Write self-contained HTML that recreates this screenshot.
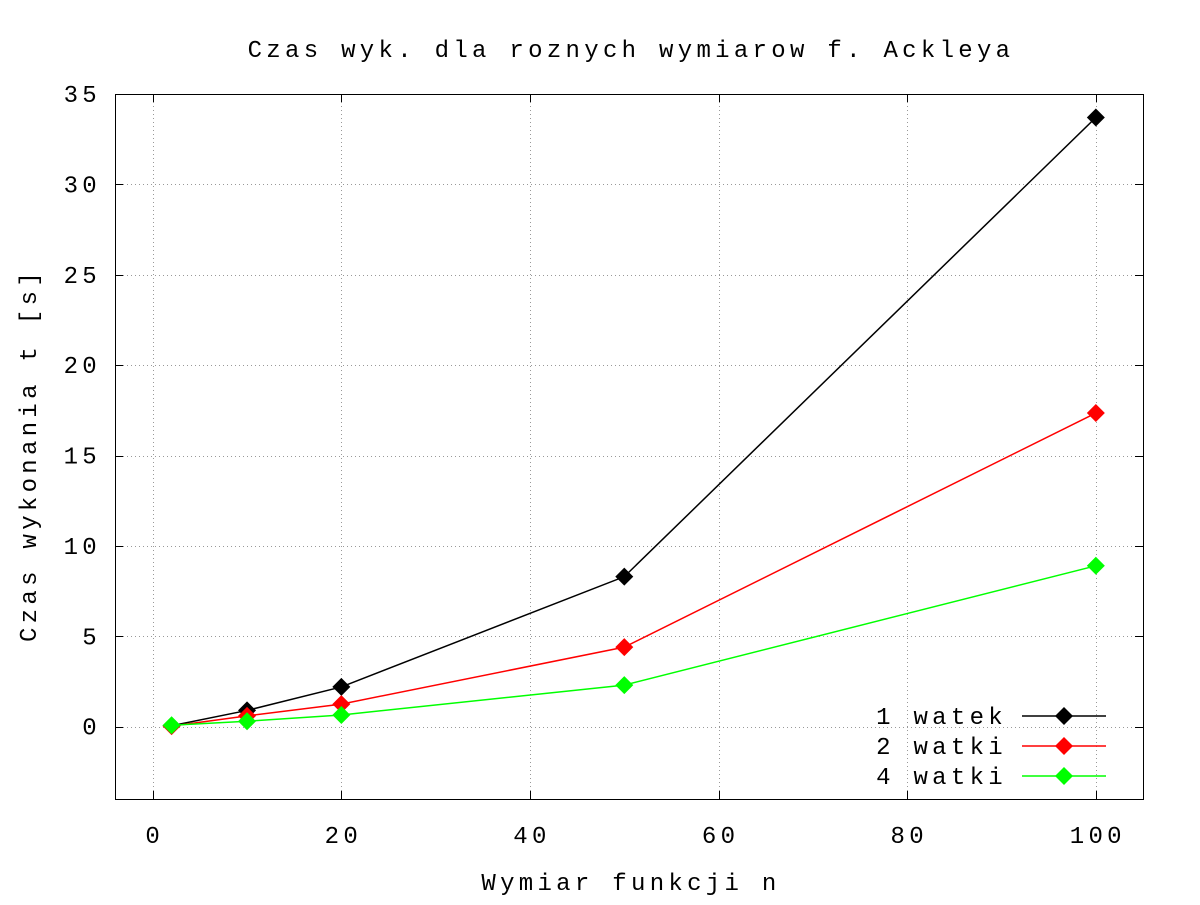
<!DOCTYPE html>
<html><head><meta charset="utf-8"><style>
body{margin:0;background:#fff;}
svg text{font-family:"Liberation Mono","DejaVu Sans Mono",monospace;fill:#000;letter-spacing:4.3px;}
</style></head><body>
<svg id="chart" width="1200" height="900">
<rect width="1200" height="900" fill="#fff"/>
<text x="631" y="57" font-size="24" text-anchor="middle">Czas wyk. dla roznych wymiarow f. Ackleya</text>
<text x="631" y="890" font-size="24" text-anchor="middle">Wymiar funkcji n</text>
<text transform="translate(36,455) rotate(-90)" font-size="24" text-anchor="middle">Czas wykonania t [s]</text>
<g id="grid"></g><g id="ticks"></g><g id="series"></g><g id="legend"></g>
<rect x="115.5" y="94.5" width="1028" height="705" fill="none" stroke="#000" stroke-width="1"/>
</svg>
<script>
const xVals=[2,10,20,50,100];
const s1=[0.05,0.9,2.2,8.3,33.7];
const s2=[0.03,0.6,1.25,4.4,17.35];
const s3=[0.08,0.3,0.65,2.3,8.9];
const seriesNames=["1 watek","2 watki","4 watki"];
const xTicks=[0,20,40,60,80,100];
const yTicks=[0,5,10,15,20,25,30,35];
const NS="http://www.w3.org/2000/svg";
const X0=115,X1=1143,Y0=799,Y1=94,xmin=-4,xmax=105,ymin=-4,ymax=35;
const xs=v=>X0+(v-xmin)/(xmax-xmin)*(X1-X0);
const ys=v=>Y0-(v-ymin)/(ymax-ymin)*(Y0-Y1);
function mk(t,a,p){const e=document.createElementNS(NS,t);for(const k in a)e.setAttribute(k,a[k]);p.appendChild(e);return e;}
const g=document.getElementById('grid'),tk=document.getElementById('ticks');
xTicks.forEach(v=>{const x=Math.round(xs(v))+0.5;
 const l=mk('line',{x1:x,x2:x,y1:Y1,y2:Y0,stroke:'#999','stroke-dasharray':'1,3'},g);
 
 
 mk('line',{x1:x,x2:x,y1:Y0,y2:Y0-8,stroke:'#000'},tk);mk('line',{x1:x,x2:x,y1:Y1,y2:Y1+8,stroke:'#000'},tk);
 const t=mk('text',{x:xs(v)+2,y:843,'font-size':24,'text-anchor':'middle'},tk);t.textContent=v;
 
 });
yTicks.forEach(v=>{const y=Math.round(ys(v))+0.5;
 const l=mk('line',{x1:X0,x2:X1,y1:y,y2:y,stroke:'#999','stroke-dasharray':'1,3'},g);
 
 
 mk('line',{x1:X0,x2:X0+8,y1:y,y2:y,stroke:'#000'},tk);mk('line',{x1:X1,x2:X1-8,y1:y,y2:y,stroke:'#000'},tk);
 const t=mk('text',{x:101,y:ys(v)+8,'font-size':24,'text-anchor':'end'},tk);t.textContent=v;
 
 });
const all=[s1,s2,s3],cols=['#000','#f00','#0f0'];
const sg=document.getElementById('series'),lg=document.getElementById('legend');
function diamond(x,y,c,p){const r=9;const d=mk('polygon',{points:`${x},${y-r} ${x+r},${y} ${x},${y+r} ${x-r},${y}`,fill:c},p);return d;}
all.forEach((s,i)=>{
 const pl=mk('polyline',{points:s.map((v,j)=>xs(xVals[j])+','+ys(v)).join(' '),fill:'none',stroke:cols[i],'stroke-width':1.5},sg);
 
 
 s.forEach((v,j)=>{const d=diamond(xs(xVals[j]),ys(v),cols[i],sg);
  
  });
 const ly=716+i*30;
 const t=mk('text',{x:1007,y:ly+8,'font-size':24,'text-anchor':'end'},lg);t.textContent=seriesNames[i];
 
 
 const ll=mk('line',{x1:1022,x2:1106,y1:ly,y2:ly,stroke:cols[i],'stroke-width':1.5},lg);
 
 
 const d=diamond(1064,ly,cols[i],lg);
 
 
});
</script>
</body></html>
